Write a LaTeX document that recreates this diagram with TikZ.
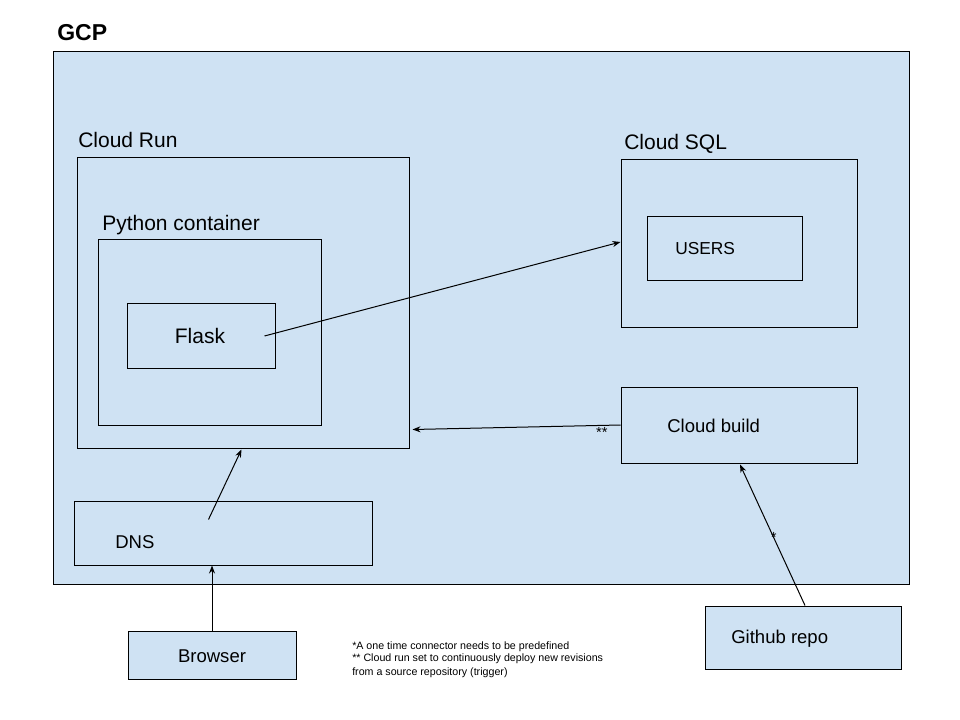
\documentclass[tikz,border=0pt]{standalone}
\usepackage{fontspec}
\setmainfont{Liberation Sans}
\usetikzlibrary{fit,calc,arrows.meta}
\definecolor{gblue}{HTML}{CFE2F3}
\tikzset{
  box/.style={draw=black, fill=gblue, line width=0.75pt, inner sep=0pt},
  lbl/.style={anchor=base west, inner sep=0pt, font=\fontsize{15.75pt}{18pt}\selectfont},
  txt/.style={anchor=base west, inner sep=0pt, font=\fontsize{13.9pt}{16pt}\selectfont},
  note/.style={anchor=north west, inner sep=0pt, align=left, font=\fontsize{8pt}{9.75pt}\selectfont},
  conn/.style={draw=black, line width=0.75pt, -{Stealth[length=6pt,width=4.5pt]}},
  star/.style={inner sep=0pt, font=\fontsize{11pt}{12pt}\selectfont}
}
\begin{document}
\begin{tikzpicture}[x=0.75pt,y=-0.75pt]
\useasboundingbox (0,0) rectangle (960,720);
% GCP
\node[box, fit={(53,52) (909,584)}] (gcp) {};
\node[anchor=base west, inner sep=0pt, font=\bfseries\fontsize{17.25pt}{20pt}\selectfont] (gcplbl) at (57,41) {GCP};
% Cloud Run
\node[box, fit={(77,158) (409,448)}] (run) {};
\node[lbl] (runlbl) at (78,148) {Cloud Run};
\node[box, fit={(98,240) (321,425)}] (py) {};
\node[lbl] (pylbl) at (102,231) {Python container};
\node[box, fit={(127,304) (275,368)}] (flask) {};
\node[lbl, anchor=base] (flasklbl) at (200,343) {Flask};
% Cloud SQL
\node[box, fit={(621,160) (857,327)}] (sql) {};
\node[lbl] (sqllbl) at (624,150) {Cloud SQL};
\node[box, fit={(647,217) (802,281)}] (users) {};
\node[anchor=base west, inner sep=0pt, font=\fontsize{13pt}{15pt}\selectfont] (userslbl) at (675,255) {USERS};
% Cloud build
\node[box, fit={(621,387) (857,463)}] (build) {};
\node[txt] (buildlbl) at (667,432) {Cloud build};
% DNS
\node[box, fit={(74,501) (372,565)}] (dns) {};
\node[txt] (dnslbl) at (115,548) {DNS};
% Browser
\node[box, fit={(128,631) (296,679)}] (browser) {};
\node[txt, anchor=base] (browserlbl) at (212,662) {Browser};
% Github
\node[box, fit={(705,606) (901,669)}] (git) {};
\node[txt] (gitlbl) at (731,643) {Github repo};
% notes
\node[note] (notes) at (352,641) {*A one time connector needs to be predefined\\** Cloud run set to continuously deploy new revisions\\from a source repository (trigger)};
% connectors
\draw[conn] ($(flask.east)+(-11,0)$) -- ($(sql.west)+(0,-1.5)$);
\draw[conn] (build.west) -- ($(run.south east)+(3,-19)$)
  node[star, pos=0.09, below=1.5pt] (dstar) {**};
\draw[conn] ($(dns.north west)+(135,19)$) -- ($(run.south west)+(165,1)$);
\draw[conn] (browser.north) -- (browser.north |- dns.south);
\draw[conn] ($(git.north)+(2,0)$) -- ($(build.south)+(1,1)$)
  node[star, pos=0.48] (sstar) {*};
\end{tikzpicture}
\end{document}
